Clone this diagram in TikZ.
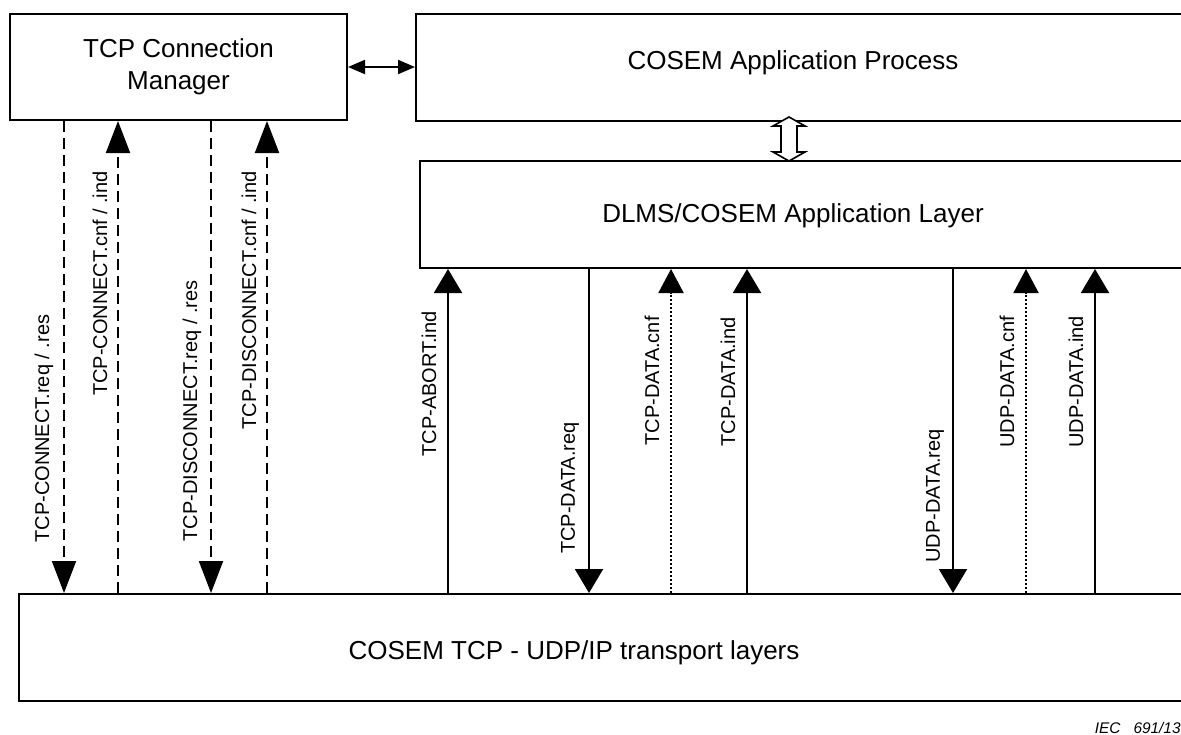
\documentclass[tikz,border=0pt]{standalone}
\usepackage{fontspec}
\setmainfont{Liberation Sans}
\usetikzlibrary{arrows.meta}
\begin{document}
\begin{tikzpicture}[x=0.5pt,y=-0.5pt,
  box/.style={draw,line width=1pt,anchor=north west,inner sep=0pt},
  boxtext/.style={inner sep=0pt,font=\fontsize{13}{16}\selectfont,align=center},
  lbl/.style={rotate=90,inner sep=0pt,font=\fontsize{10}{12}\selectfont},
  solidarr/.style={line width=1pt,-{Triangle[length=12pt,width=14pt]}},
  dasharr/.style={line width=1pt,dash pattern=on 5.5pt off 3pt,-{Triangle[length=16pt,width=12pt]}},
  dotarr/.style={line width=1pt,dash pattern=on 1pt off 1pt,-{Triangle[length=12pt,width=12.5pt]}},
  twoway/.style={line width=1pt,{Triangle[length=8.5pt,width=7pt]}-{Triangle[length=8.5pt,width=7pt]}},
  hollow/.style={draw,line width=0.8pt,fill=white,line join=miter}
]
\clip (0,0) rectangle (1181,734);
\fill[white] (0,0) rectangle (1181,734);

% boxes
\node[box,minimum width=168.5pt,minimum height=53pt,boxtext] (cm) at (9,13) {TCP Connection\\Manager};
\node[box,minimum width=392.5pt,minimum height=53.5pt] (ap) at (415,13) {};
\node[boxtext] (aptext) at (793,63) {COSEM Application Process};
\node[box,minimum width=390.5pt,minimum height=53.5pt] (al) at (419,160) {};
\node[boxtext] (altext) at (793,216) {DLMS/COSEM Application Layer};
\node[box,minimum width=591pt,minimum height=53.5pt] (tl) at (18,593) {};
\node[boxtext] (tltext) at (574,653) {COSEM TCP - UDP/IP transport layers};

\node[anchor=base east,inner sep=0pt,font=\fontsize{7.7}{9}\selectfont\itshape] (iec) at (1181,733) {IEC\hspace{6.5pt}691/13};

% CM <-> AP
\draw[twoway] (cm.east) -- (ap.west |- cm.east);

% AP <=> AL hollow double arrow
\coordinate (hx) at (789,0);
\path (ap.south -| hx) coordinate (hTop) (al.north -| hx) coordinate (hBot);
\draw[hollow] ([shift={(0,-5)}]hTop) -- ([shift={(16,4)}]hTop) -- ([shift={(8,4)}]hTop)
  -- ([shift={(8,-8)}]hBot) -- ([shift={(16,-8)}]hBot) -- ([shift={(0,1)}]hBot)
  -- ([shift={(-16,-8)}]hBot) -- ([shift={(-8,-8)}]hBot) -- ([shift={(-8,4)}]hTop)
  -- ([shift={(-16,4)}]hTop) -- cycle;

% x positions
\coordinate (x1) at (64,0);
\coordinate (x2) at (118,0);
\coordinate (x3) at (211,0);
\coordinate (x4) at (267,0);
\coordinate (x5) at (448,0);
\coordinate (x6) at (589,0);
\coordinate (x7) at (671,0);
\coordinate (x8) at (747,0);
\coordinate (x9) at (953,0);
\coordinate (x10) at (1026,0);
\coordinate (x11) at (1095,0);

% TCP connection manager primitives (dashed)
\draw[dasharr] (cm.south -| x1) -- (tl.north -| x1);
\draw[dasharr] (tl.north -| x2) -- (cm.south -| x2);
\draw[dasharr] (cm.south -| x3) -- (tl.north -| x3);
\draw[dasharr] (tl.north -| x4) -- (cm.south -| x4);

% application layer primitives
\draw[solidarr] (tl.north -| x5) -- (al.south -| x5);
\draw[solidarr] (al.south -| x6) -- (tl.north -| x6);
\draw[dotarr] (tl.north -| x7) -- (al.south -| x7);
\draw[solidarr] (tl.north -| x8) -- (al.south -| x8);
\draw[solidarr] (al.south -| x9) -- (tl.north -| x9);
\draw[dotarr] (tl.north -| x10) -- (al.south -| x10);
\draw[solidarr] (tl.north -| x11) -- (al.south -| x11);

% labels
\node[lbl,anchor=west] (l1) at (44,543) {TCP-CONNECT.req / .res};
\node[lbl,anchor=east] (l2) at (100,171) {TCP-CONNECT.cnf / .ind};
\node[lbl,anchor=west] (l3) at (192,542) {TCP-DISCONNECT.req / .res};
\node[lbl,anchor=east] (l4) at (249,171) {TCP-DISCONNECT.cnf / .ind};
\node[lbl] (l5) at (429,384) {TCP-ABORT.ind};
\node[lbl] (l6) at (570,488) {TCP-DATA.req};
\node[lbl] (l7) at (652,381) {TCP-DATA.cnf};
\node[lbl] (l8) at (728,382) {TCP-DATA.ind};
\node[lbl] (l9) at (935,496) {UDP-DATA.req};
\node[lbl] (l10) at (1007,382) {UDP-DATA.cnf};
\node[lbl] (l11) at (1076,382) {UDP-DATA.ind};
\end{tikzpicture}
\end{document}
